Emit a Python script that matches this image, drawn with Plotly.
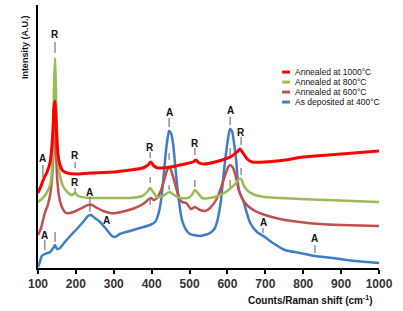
import plotly.graph_objects as go

# ---------------- data (Raman shift in cm^-1, intensity in arbitrary units) ----------------
blue_x = [100, 105, 110, 118, 132, 142, 145, 150, 158, 171, 185, 200, 219, 232, 240, 250, 264, 282, 295, 303,
          316, 343, 369, 396, 409, 417, 425, 433, 438, 443, 446, 451, 457, 462, 470, 480, 491, 501, 528, 554,
          567, 575, 583, 591, 599, 604, 607, 612, 617, 623, 630, 641, 660, 678, 699, 720, 752, 791, 830, 878,
          937, 1000]
blue_y = [1, 6, 12, 14, 16, 21, 23, 19, 20, 26, 32, 38, 46, 52, 53, 50, 46, 38, 32, 31,
          34, 37, 40, 43, 46, 53, 68, 98, 118, 132, 137, 135, 123, 103, 73, 48, 38, 34, 32, 35,
          40, 50, 68, 98, 123, 135, 139, 137, 126, 108, 78, 68, 45, 36, 31, 25, 18, 15, 12, 10,
          7, 5]

brown_x = [100, 108, 118, 126, 134, 140, 142, 145, 147, 150, 155, 163, 174, 184, 200, 216, 232, 243, 256, 272,
           290, 306, 330, 356, 377, 390, 398, 406, 414, 425, 433, 441, 446, 451, 459, 470, 480, 491, 504, 514,
           528, 541, 554, 570, 583, 594, 602, 607, 615, 623, 630, 641, 654, 673, 699, 739, 791, 844, 900, 1000]
brown_y = [33, 40, 55, 63, 78, 108, 138, 155, 128, 93, 73, 61, 55, 55, 57, 60, 63, 63, 60, 57,
           55, 55, 57, 60, 64, 68, 70, 68, 70, 78, 88, 98, 101, 98, 88, 73, 66, 65, 59, 61,
           58, 57, 60, 68, 80, 93, 101, 103, 100, 90, 78, 68, 62, 57, 53, 49, 46, 44, 43, 42]

green_x = [100, 110, 121, 132, 137, 140, 142, 145, 147, 150, 153, 158, 166, 177, 190, 198, 206, 237, 290, 343,
           375, 388, 396, 404, 414, 430, 446, 459, 475, 496, 506, 514, 522, 533, 554, 575, 596, 612, 623, 630,
           636, 644, 654, 673, 699, 791, 1000]
green_y = [66, 69, 74, 83, 98, 128, 178, 210, 183, 138, 108, 92, 82, 76, 73, 75, 72, 70, 70, 70,
           72, 76, 80, 76, 71, 72, 76, 73, 70, 70, 73, 78, 75, 70, 70, 72, 76, 81, 85, 89,
           89, 82, 77, 73, 71, 69, 66]

red_x = [100, 108, 116, 124, 132, 137, 140, 142, 145, 147, 150, 153, 158, 166, 177, 200, 237, 300, 343, 377,
         390, 398, 406, 417, 449, 488, 509, 517, 525, 541, 567, 594, 612, 625, 633, 641, 652, 665, 699, 752,
         799, 900, 1000]
red_y = [75, 82, 90, 96, 106, 123, 143, 160, 167, 153, 128, 113, 103, 97, 95, 94, 95, 96, 98, 100,
         103, 106, 102, 100, 101, 104, 106, 108, 105, 104, 106, 109, 112, 116, 119, 115, 109, 106, 106, 108,
         111, 114, 117]

series_names = ["Annealed at 1000°C", "Annealed at 800°C", "Annealed at 600°C", "As deposited at 400°C"]
x_ticks = [100, 200, 300, 400, 500, 600, 700, 800, 900, 1000]

# peak labels: (text, raman shift, label height, tick top, tick bottom)
peak_labels = [
    ("R", 145, 234, 226, 215),
    ("A", 113, 110, 103, 91),
    ("R", 198, 113, 106, 100),
    ("R", 198, 86, 80, 75),
    ("A", 237, 76, 71, 56),
    ("A", 282, 48, None, None),
    ("A", 118, 33, 28, 18),
    ("", 145, None, 36, 26),
    ("R", 396, 121, 116, 110),
    ("", 396, None, 91, 85),
    ("", 396, None, 70, 63),
    ("A", 446, 156, 150, 141),
    ("", 446, None, 115, 108),
    ("", 446, None, 83, 78),
    ("R", 514, 125, 120, 113),
    ("", 514, None, 88, 81),
    ("A", 607, 158, 151, 143),
    ("", 607, None, 120, 113),
    ("", 607, None, 88, 81),
    ("R", 636, 136, 131, 123),
    ("", 636, None, 100, 93),
    ("A", 694, 46, 40, 35),
    ("A", 831, 30, 23, 15),
]

# ---------------- figure ----------------
colors = ["#ff0000", "#9bbb59", "#c0504d", "#3f7dc8"]
widths = [3, 2.5, 2.5, 2.5]
xs = [red_x, green_x, brown_x, blue_x]
ys = [red_y, green_y, brown_y, blue_y]

fig = go.Figure()
for i in [3, 2, 1, 0]:
    fig.add_trace(go.Scatter(x=xs[i], y=ys[i], mode="lines", name=series_names[i],
                             line=dict(color=colors[i], width=widths[i], shape="spline", smoothing=0.6),
                             showlegend=False, hoverinfo="skip"))

font_fam = "Liberation Sans, Arial, sans-serif"
annotations = []
shapes = []
for txt, x, ty, t0, t1 in peak_labels:
    if txt:
        annotations.append(dict(x=x, y=ty, xref="x", yref="y", text=txt, showarrow=False,
                                font=dict(family=font_fam, size=10, color="#111", weight="bold"),
                                xanchor="center", yanchor="middle"))
    if t0 is not None:
        shapes.append(dict(type="line", xref="x", yref="y", x0=x, x1=x, y0=t0, y1=t1,
                           line=dict(color="#777", width=1.2)))

leg_y = [0.745, 0.707, 0.669, 0.631]
for i in range(4):
    shapes.append(dict(type="line", xref="paper", yref="paper", x0=0.716, x1=0.739,
                       y0=leg_y[i], y1=leg_y[i], line=dict(color=colors[i], width=3)))
    annotations.append(dict(x=0.748, y=leg_y[i], xref="paper", yref="paper", text=series_names[i],
                            showarrow=False, xanchor="left", yanchor="middle",
                            font=dict(family=font_fam, size=8.5, color="#111")))

annotations.append(dict(x=0.80, y=-0.12, xref="paper", yref="paper",
                        text="Counts/Raman shift (cm<sup>-1</sup>)", showarrow=False,
                        xanchor="center", yanchor="middle",
                        font=dict(family=font_fam, size=10, color="#111", weight="bold")))
annotations.append(dict(x=-0.038, y=0.84, xref="paper", yref="paper",
                        text="Intensity (A.U.)", showarrow=False, textangle=-90,
                        xanchor="center", yanchor="middle",
                        font=dict(family=font_fam, size=9, color="#111", weight="bold")))

fig.update_layout(
    width=403, height=311,
    margin=dict(l=38, r=24, t=5, b=43),
    paper_bgcolor="white", plot_bgcolor="white",
    showlegend=False,
    annotations=annotations, shapes=shapes,
    xaxis=dict(range=[100, 1000], tickvals=x_ticks, ticktext=[str(v) for v in x_ticks],
               showline=True, linecolor="black", linewidth=2, ticks="outside", ticklen=4,
               tickwidth=1.5, tickcolor="black", showgrid=False, zeroline=False,
               tickfont=dict(family=font_fam, size=12, color="#333333", weight="bold")),
    yaxis=dict(range=[0, 263], showline=True, linecolor="black", linewidth=2,
               showticklabels=False, ticks="", showgrid=False, zeroline=False),
)

fig.write_html("out.html", config={"displayModeBar": False},
               post_script="document.body.style.margin='0';document.body.style.padding='0';")
